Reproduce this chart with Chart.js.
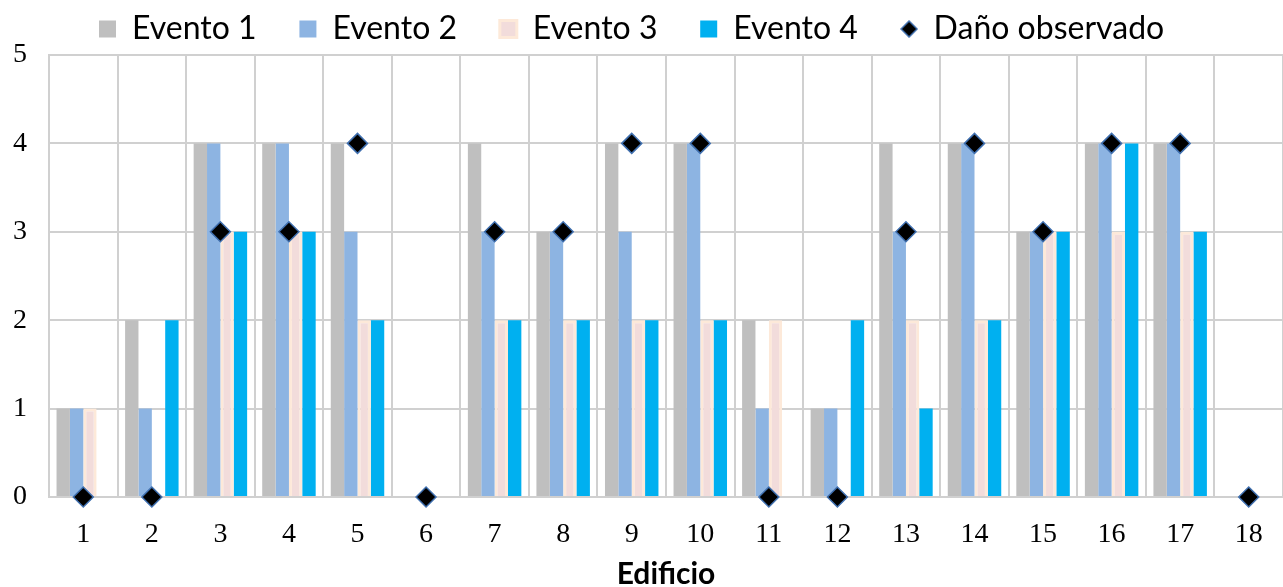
<!DOCTYPE html>
<html>
<head>
<meta charset="utf-8">
<script src="https://cdn.jsdelivr.net/npm/chart.js@4.4.1/dist/chart.umd.min.js"></script>
<style>
  html, body { margin: 0; padding: 0; background: #fff; }
</style>
</head>
<body>
<canvas id="myChart" width="1283" height="587"></canvas>
<script>
var edificios = ['1','2','3','4','5','6','7','8','9','10','11','12','13','14','15','16','17','18'];
var evento1 = [1, 2, 4, 4, 4, 0, 4, 3, 4, 4, 2, 1, 4, 4, 3, 4, 4, 0];
var evento2 = [1, 1, 4, 4, 3, 0, 3, 3, 3, 4, 1, 1, 3, 4, 3, 4, 4, 0];
var evento3 = [1, 0, 3, 3, 2, 0, 2, 2, 2, 2, 2, 0, 2, 2, 3, 3, 3, 0];
var evento4 = [0, 2, 3, 3, 2, 0, 2, 2, 2, 2, 0, 2, 1, 2, 3, 4, 3, 0];
var danoObservado = [0, 0, 3, 3, 4, 0, 3, 3, 4, 4, 0, 0, 3, 4, 3, 4, 4, 0];
var yTicks = [0, 1, 2, 3, 4, 5];

// small diamond used only in the legend
var diamondIcon = document.createElement('canvas');
diamondIcon.width = 18; diamondIcon.height = 18;
(function () {
  var c = diamondIcon.getContext('2d');
  c.beginPath();
  c.moveTo(9, 1); c.lineTo(17, 9); c.lineTo(9, 17); c.lineTo(1, 9); c.closePath();
  c.fillStyle = '#000'; c.fill();
  c.lineWidth = 1.5; c.strokeStyle = '#3F6FAF'; c.stroke();
})();

var gridColor = '#D0D0D0';
var spacer = '    ';

var ctx = document.getElementById('myChart').getContext('2d');
var myChart = new Chart(ctx, {
  type: 'bar',
  data: {
    labels: edificios,
    datasets: [{
        label: 'Evento 1',
        data: evento1,
        backgroundColor: '#BFBFBF',
        borderWidth: 0
      }, {
        label: 'Evento 2',
        data: evento2,
        backgroundColor: '#8DB4E2',
        borderWidth: 0
      }, {
        label: 'Evento 3',
        data: evento3,
        backgroundColor: '#F2DCDB',
        borderColor: '#FDE9D9',
        borderWidth: 3
      }, {
        label: 'Evento 4',
        data: evento4,
        backgroundColor: '#00B0F0',
        borderWidth: 0
      }, {
        type: 'line',
        label: 'Daño observado',
        data: danoObservado,
        showLine: false,
        order: -1,
        clip: false,
        pointStyle: 'rectRot',
        pointRadius: 10,
        pointHoverRadius: 10,
        pointBackgroundColor: '#000',
        pointBorderColor: '#3F6FAF',
        pointBorderWidth: 1.5,
        backgroundColor: '#000',
        borderColor: '#3F6FAF'
      }
    ]
  },
  options: {
    responsive: false,
    animation: false,
    categoryPercentage: 0.78,
    barPercentage: 1.0,
    layout: { autoPadding: false, padding: { left: 13, right: 0, top: 3, bottom: 0 } },
    scales: {
      x: {
        afterFit: function (axis) {
          axis.height = 90;
          axis.paddingLeft = 0;
          axis.paddingRight = 0;
        },
        grid: { color: gridColor, lineWidth: 2, drawTicks: false, offset: true },
        border: { color: gridColor, width: 2 },
        ticks: { color: '#000', padding: 21, font: { family: 'Liberation Serif', size: 28 } },
        title: {
          display: true,
          text: 'Edificio',
          color: '#000',
          padding: { top: 0, bottom: 0 },
          font: { family: 'Lato', size: 30, weight: 'bold', lineHeight: 0.85 }
        }
      },
      y: {
        min: 0,
        max: 5,
        afterFit: function (axis) { axis.width = 36; },
        afterBuildTicks: function (axis) {
          axis.ticks = yTicks.map(function (v) { return { value: v }; });
        },
        grid: { color: gridColor, lineWidth: 2, drawTicks: false },
        border: { color: gridColor, width: 2 },
        ticks: { color: '#000', padding: 22, font: { family: 'Liberation Serif', size: 28 } }
      }
    },
    plugins: {
      tooltip: { enabled: false },
      legend: {
        position: 'top',
        labels: {
          usePointStyle: true,
          boxWidth: 17,
          boxHeight: 17,
          padding: 10,
          color: '#000',
          font: { family: 'Lato', size: 32 },
          generateLabels: function (chart) {
            var items = Chart.defaults.plugins.legend.labels.generateLabels(chart);
            items.sort(function (a, b) { return a.datasetIndex - b.datasetIndex; });
            items.forEach(function (it) {
              it.pointStyle = it.datasetIndex === 4 ? diamondIcon : 'rect';
              it.text += spacer;
            });
            return items;
          }
        }
      }
    }
  }
});
</script>
</body>
</html>
